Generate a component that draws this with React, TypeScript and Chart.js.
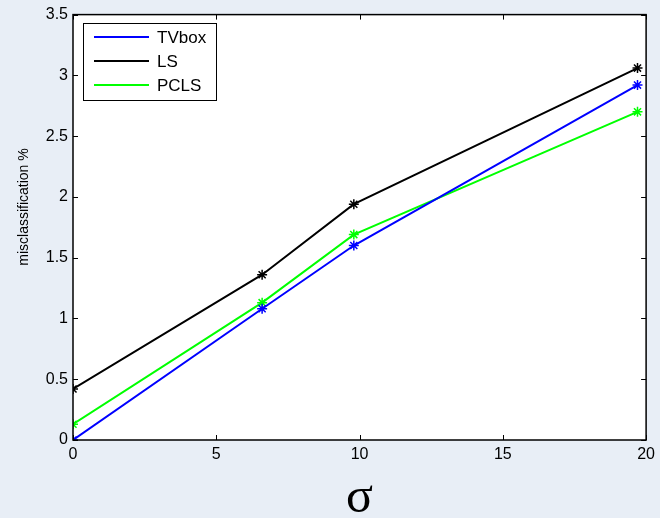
import React, { useEffect, useRef } from "react";
import { Chart, registerables } from "chart.js";

Chart.register(...registerables);

// noise level sigma at which each method was evaluated
const sigmaValues = [0, 6.6, 9.8, 19.7];

// misclassification rate (%) per method
const tvboxValues = [0, 1.08, 1.6, 2.92];
const lsValues = [0.42, 1.36, 1.94, 3.06];
const pclsValues = [0.13, 1.13, 1.69, 2.7];

const seriesNames = ["TVbox", "LS", "PCLS"];
const seriesColors = ["#0000ff", "#000000", "#00ff00"];

const xTicks = [0, 5, 10, 15, 20];
const yTicks = [0, 0.5, 1, 1.5, 2, 2.5, 3, 3.5];

const yTitle = "misclassification %";
const xTitle = "σ";

const BG = "#e8eef6";
const SANS = "Arial, 'Liberation Sans', sans-serif";

// Box frame, inward ticks, legend and axis titles drawn in MATLAB style
const framePlugin = {
  id: "matlabFrame",
  beforeDraw(chart: any) {
    const { ctx, chartArea: a } = chart;
    ctx.save();
    ctx.fillStyle = "#ffffff";
    ctx.fillRect(a.left, a.top, a.right - a.left, a.bottom - a.top);
    ctx.restore();
  },
  afterDraw(chart: any) {
    const { ctx, chartArea: a, scales } = chart;
    const xs = scales.x;
    const ys = scales.y;
    ctx.save();
    ctx.strokeStyle = "#000000";
    ctx.lineWidth = 1;
    // inward ticks on all four sides
    const tl = 5;
    ctx.beginPath();
    xTicks.forEach((v) => {
      const px = Math.round(xs.getPixelForValue(v)) + 0.5;
      ctx.moveTo(px, a.bottom);
      ctx.lineTo(px, a.bottom - tl);
      ctx.moveTo(px, a.top);
      ctx.lineTo(px, a.top + tl);
    });
    yTicks.forEach((v) => {
      const py = Math.round(ys.getPixelForValue(v)) + 0.5;
      ctx.moveTo(a.left, py);
      ctx.lineTo(a.left + tl, py);
      ctx.moveTo(a.right, py);
      ctx.lineTo(a.right - tl, py);
    });
    ctx.stroke();
    // frame
    ctx.lineWidth = 1.5;
    ctx.strokeRect(a.left, a.top, a.right - a.left, a.bottom - a.top);

    // legend
    const lx = 83;
    const ly = 23;
    const lw = 133;
    const lh = 77;
    ctx.fillStyle = "#ffffff";
    ctx.fillRect(lx, ly, lw, lh);
    ctx.lineWidth = 1;
    ctx.strokeStyle = "#000000";
    ctx.strokeRect(lx + 0.5, ly + 0.5, lw, lh);
    ctx.font = `17px ${SANS}`;
    ctx.textBaseline = "middle";
    ctx.textAlign = "left";
    seriesNames.forEach((name, i) => {
      const y = ly + 14 + i * 24;
      ctx.strokeStyle = seriesColors[i];
      ctx.lineWidth = 2;
      ctx.beginPath();
      ctx.moveTo(lx + 11, y);
      ctx.lineTo(lx + 66, y);
      ctx.stroke();
      ctx.fillStyle = "#000000";
      ctx.fillText(name, lx + 74, y + 1);
    });

    // y axis title
    ctx.save();
    ctx.translate(24, 207);
    ctx.rotate(-Math.PI / 2);
    ctx.font = `14px ${SANS}`;
    ctx.textAlign = "center";
    ctx.textBaseline = "middle";
    ctx.fillStyle = "#000000";
    ctx.fillText(yTitle, 0, 0);
    ctx.restore();

    // x axis title
    ctx.font = "50px 'Liberation Serif', 'Times New Roman', serif";
    ctx.textAlign = "center";
    ctx.textBaseline = "alphabetic";
    ctx.fillStyle = "#000000";
    ctx.fillText(xTitle, (a.left + a.right) / 2, 512);
    ctx.restore();
  },
};

export default function App() {
  const canvasRef = useRef<HTMLCanvasElement | null>(null);

  useEffect(() => {
    const canvas = canvasRef.current;
    if (!canvas) return;
    const series = [tvboxValues, lsValues, pclsValues];
    const chart = new Chart(canvas, {
      type: "line",
      data: {
        datasets: series.map((vals, i) => ({
          label: seriesNames[i],
          data: sigmaValues.map((s, j) => ({ x: s, y: vals[j] })),
          borderColor: seriesColors[i],
          backgroundColor: seriesColors[i],
          borderWidth: 2,
          pointStyle: "star",
          pointRadius: 5,
          pointBorderWidth: 1.5,
          pointBorderColor: seriesColors[i],
          tension: 0,
          fill: false,
        })),
      },
      options: {
        animation: false,
        responsive: false,
        maintainAspectRatio: false,
        layout: { padding: { left: 0, top: 14, right: 12, bottom: 0 } },
        plugins: {
          legend: { display: false },
          tooltip: { enabled: false },
          title: { display: false },
        },
        scales: {
          x: {
            type: "linear",
            min: 0,
            max: 20,
            afterFit: (s: any) => {
              s.height = 78;
            },
            afterBuildTicks: (s: any) => {
              s.ticks = xTicks.map((v) => ({ value: v }));
            },
            grid: { display: false, drawTicks: false },
            border: { display: false },
            ticks: {
              padding: 5,
              color: "#000000",
              font: { family: SANS, size: 16 },
              maxRotation: 0,
              autoSkip: false,
              callback: (v: any) => String(v),
            },
          },
          y: {
            type: "linear",
            min: 0,
            max: 3.5,
            afterFit: (s: any) => {
              s.width = 73;
            },
            afterBuildTicks: (s: any) => {
              s.ticks = yTicks.map((v) => ({ value: v }));
            },
            grid: { display: false, drawTicks: false },
            border: { display: false },
            ticks: {
              padding: 5,
              color: "#000000",
              font: { family: SANS, size: 16 },
              autoSkip: false,
              callback: (v: any) => String(v),
            },
          },
        },
      },
      plugins: [framePlugin],
    });
    return () => chart.destroy();
  }, []);

  return (
    <div
      style={{
        position: "absolute",
        left: 0,
        top: 0,
        width: 660,
        height: 518,
        background: BG,
      }}
    >
      <canvas ref={canvasRef} width={660} height={518} style={{ display: "block" }} />
    </div>
  );
}
